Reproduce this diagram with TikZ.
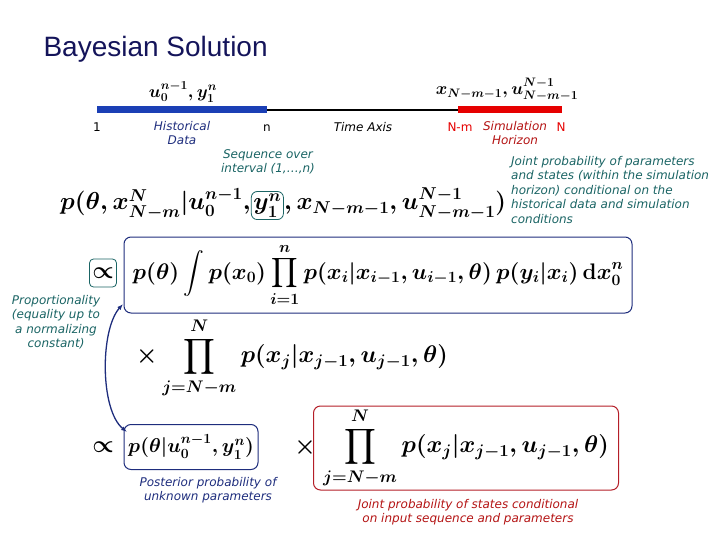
\RequirePackage{fix-cm}
\documentclass[tikz,border=0pt]{standalone}
\usepackage{amsmath}
\usepackage[no-math]{fontspec}
\newfontfamily\labelfont{DejaVu Sans}
\newfontfamily\titlefont{Liberation Sans}
\usepackage{xcolor}
\definecolor{slideNavy}{HTML}{14145A}
\definecolor{axisBlue}{HTML}{1B3FB5}
\definecolor{axisRed}{HTML}{E60000}
\definecolor{noteTeal}{HTML}{1A6464}
\definecolor{boxNavy}{HTML}{1E2D7D}
\definecolor{boxRed}{HTML}{B41E28}
\definecolor{noteRed}{HTML}{B41414}
\usepackage{tikz}
\usetikzlibrary{arrows.meta, positioning}

\begin{document}
\begin{tikzpicture}[
    x=1pt, y=-1pt,
    note/.style={
        font=\labelfont\itshape\fontsize{12}{14.5}\selectfont,
        align=center,
        inner sep=0pt
    },
    tick/.style={
        font=\labelfont\fontsize{12}{14}\selectfont,
        inner sep=0pt
    },
    eqn/.style={
        font=\fontsize{24}{28}\selectfont\boldmath,
        inner sep=0pt
    },
    eqbox/.style={
        draw=boxNavy,
        line width=1pt,
        rounded corners=7pt,
        inner sep=0pt
    }
]
\useasboundingbox (0,0) rectangle (720,540);

% title
\node[anchor=west, text=slideNavy, font=\titlefont\fontsize{28}{32}\selectfont] (title) at (40,49) {Bayesian Solution};

% time axis
\coordinate (tOne) at (97,110);
\coordinate (tn) at (267,110);
\coordinate (tNm) at (458,110);
\coordinate (tN) at (562,110);
\draw[axisBlue, line width=7pt] (tOne) -- (tn);
\draw[black, line width=2pt] (tn) -- (tNm);
\draw[axisRed, line width=7pt] (tNm) -- (tN);

\node[eqn, font=\fontsize{17.5}{20}\selectfont\boldmath] (histData) at (183,92) {$u_0^{n-1}, y_1^n$};
\node[eqn, font=\fontsize{17.5}{20}\selectfont\boldmath] (simData) at (507,90) {$x_{N-m-1}, u_{N-m-1}^{N-1}$};

\node[tick] (lOne) at (97,127) {1};
\node[note, text=boxNavy] (lHist) at (182,133) {Historical\\Data};
\node[tick] (ln) at (267,128) {n};
\node[note, text=black] (lAxis) at (363,127) {Time Axis};
\node[tick, text=axisRed] (lNm) at (460,127) {N-m};
\node[note, text=noteRed] (lSim) at (515,133) {Simulation\\Horizon};
\node[tick, text=axisRed] (lN) at (561,127) {N};

% joint density
\node[note, text=noteTeal] (seqNote) at (268,162) {Sequence over\\interval (1,\dots,n)};
\node[eqn, font=\fontsize{24.5}{28}\selectfont\boldmath, anchor=base west] (jointL) at (60,210) {$p(\theta, x_{N-m}^{N} | u_0^{n-1},$};
\node[eqn, font=\fontsize{24.5}{28}\selectfont\boldmath, anchor=base west, draw=noteTeal, thick, rounded corners=6pt, inner sep=2pt] (jointY) at (jointL.base east) {$y_1^n$};
\node[eqn, font=\fontsize{24.5}{28}\selectfont\boldmath, anchor=base west] (jointR) at (jointY.base east) {$, x_{N-m-1}, u_{N-m-1}^{N-1})$};
\node[note, text=noteTeal, align=left, anchor=north west] (jointNote) at (511,156) {Joint probability of parameters\\and states (within the simulation\\horizon) conditional on the\\historical data and simulation\\conditions};

% first line
\node[eqn, draw=noteTeal, thick, rounded corners=4pt, minimum width=27pt, minimum height=28pt] (propOne) at (103,273) {$\propto$};
\node[eqn, eqbox, font=\fontsize{22.5}{26}\selectfont\boldmath, minimum width=508pt, minimum height=76pt] (boxOne) at (378,275)
    {$\displaystyle p(\theta) \int p(x_0) \prod_{i=1}^{n} p(x_i | x_{i-1}, u_{i-1}, \theta)\, p(y_i | x_i)\, \mathrm{d}x_0^n$};
\node[note, text=noteTeal] (propNote) at (56,322) {Proportionality\\(equality up to\\a normalizing\\constant)};

% second line
\node[eqn, anchor=west] (lineTwo) at (136,358)
    {$\displaystyle \times \prod_{j=N-m}^{N} p(x_j | x_{j-1}, u_{j-1}, \theta)$};

% third line
\node[eqn] (propTwo) at (103,447) {$\propto$};
\node[eqn, eqbox, font=\fontsize{20}{24}\selectfont\boldmath, minimum width=134pt, minimum height=45pt] (postBox) at (191,447) {$p(\theta | u_0^{n-1}, y_1^n)$};
\node[eqn] (timesTwo) at (305,447) {$\times$};
\node[eqn, eqbox, draw=boxRed, minimum width=305pt, minimum height=84pt] (stateBox) at (466,448)
    {$\displaystyle \prod_{j=N-m}^{N} p(x_j | x_{j-1}, u_{j-1}, \theta)$};
\node[note, text=boxNavy] (postNote) at (208,490) {Posterior probability of\\unknown parameters};
\node[note, text=noteRed] (stateNote) at (468,512) {Joint probability of states conditional\\on input sequence and parameters};

\coordinate (arrTop) at (123,304);
\coordinate (arrBot) at (127,432);
\draw[boxNavy, line width=1.3pt, {Latex[length=6pt]}-{Latex[length=6pt]}] (arrTop) .. controls (100,330) and (100,410) .. (arrBot);
\end{tikzpicture}
\end{document}
